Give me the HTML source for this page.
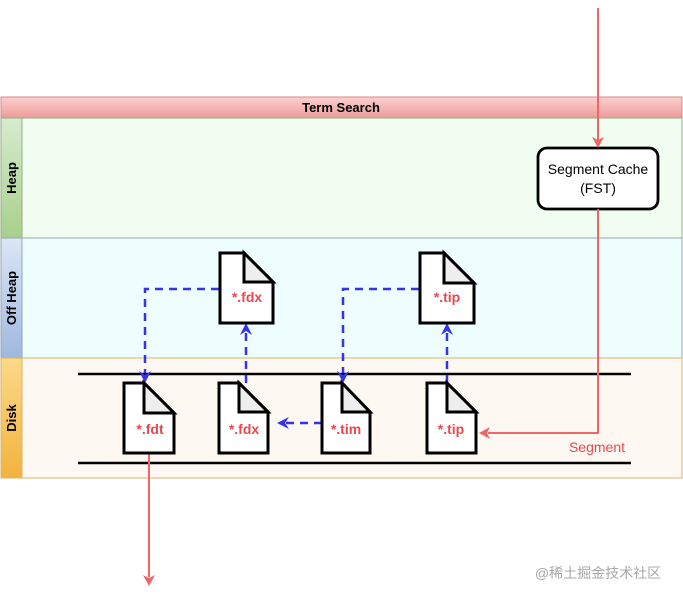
<!DOCTYPE html>
<html><head><meta charset="utf-8"><style>
html,body{margin:0;padding:0;background:#fff;width:683px;height:598px;overflow:hidden}
svg{display:block}
text{font-family:"Liberation Sans",sans-serif}
</style></head><body>
<svg width="683" height="598" viewBox="0 0 683 598" xmlns="http://www.w3.org/2000/svg">
<defs>
<linearGradient id="tg" x1="0" y1="0" x2="0" y2="1"><stop offset="0" stop-color="#fbd0d0"/><stop offset="1" stop-color="#ee9a9a"/></linearGradient>
<linearGradient id="hg" x1="0" y1="0" x2="0" y2="1"><stop offset="0" stop-color="#d8ead0"/><stop offset="1" stop-color="#a8d08c"/></linearGradient>
<linearGradient id="og" x1="0" y1="0" x2="0" y2="1"><stop offset="0" stop-color="#dce6f5"/><stop offset="1" stop-color="#9fb8e0"/></linearGradient>
<linearGradient id="dg" x1="0" y1="0" x2="0" y2="1"><stop offset="0" stop-color="#fcd98a"/><stop offset="1" stop-color="#f2b33e"/></linearGradient>
</defs>
<rect x="1" y="97" width="681" height="21" fill="url(#tg)" stroke="#d78a8a"/>
<text x="341" y="112" font-size="13" font-weight="bold" text-anchor="middle">Term Search</text>
<rect x="1" y="118" width="681" height="120" fill="#f0fdf0" stroke="#96ad8a"/>
<rect x="1" y="118" width="21" height="120" fill="url(#hg)" stroke="#96ad8a"/>
<rect x="1" y="238" width="681" height="120" fill="#eefdfd" stroke="#93a8b6"/>
<rect x="1" y="238" width="21" height="120" fill="url(#og)" stroke="#93a8b6"/>
<rect x="1" y="358" width="681" height="120" fill="#fef8f2" stroke="#d9b46a"/>
<rect x="1" y="358" width="21" height="120" fill="url(#dg)" stroke="#d9b46a"/>
<text transform="translate(16,178) rotate(-90)" font-size="13" font-weight="bold" text-anchor="middle">Heap</text>
<text transform="translate(16,298) rotate(-90)" font-size="13" font-weight="bold" text-anchor="middle">Off Heap</text>
<text transform="translate(16,418) rotate(-90)" font-size="13" font-weight="bold" text-anchor="middle">Disk</text>
<line x1="78" y1="374" x2="631" y2="374" stroke="#000" stroke-width="2.5"/>
<line x1="78" y1="463" x2="631" y2="463" stroke="#000" stroke-width="2.5"/>
<rect x="538" y="148" width="120" height="61" rx="9" fill="#fff" stroke="#000" stroke-width="2.8"/>
<text x="598" y="174" font-size="14" text-anchor="middle">Segment Cache</text>
<text x="598" y="193" font-size="14" text-anchor="middle">(FST)</text>
<g stroke="#ee6666" stroke-width="2" fill="none">
<line x1="598" y1="8" x2="598" y2="140"/>
<polyline points="598,209 598,433 488,433"/>
<line x1="149" y1="453" x2="149" y2="577"/>
</g>
<g fill="#ee6666">
<polygon points="592,137 598,148 604,137 598,140"/>
<polygon points="490,427 479,433 490,439 487,433"/>
<polygon points="143,575 149,586 155,575 149,578"/>
</g>
<text x="597" y="452" font-size="14" fill="#e8474f" text-anchor="middle">Segment</text>
<g stroke="#3333ee" stroke-width="2.5" fill="none" stroke-dasharray="8,6">
<polyline points="219,289 145,289 145,373"/>
<line x1="246" y1="383" x2="246" y2="333"/>
<polyline points="419,289 343,289 343,373"/>
<line x1="447" y1="383" x2="447" y2="333"/>
<line x1="322" y1="423" x2="285" y2="423"/>
</g>
<g fill="#3333ee">
<polygon points="139,371 145,383 151,371 145,375"/>
<polygon points="240,335 246,323 252,335 246,331"/>
<polygon points="337,371 343,383 349,371 343,375"/>
<polygon points="441,335 447,323 453,335 447,331"/>
<polygon points="289,417 277,423 289,429 285,423"/>
</g>
<g stroke="#000" stroke-width="3">
<path d="M124,383 H144 L174,413 V453 H124 Z" fill="#fff"/><path d="M144,383 V413 H174 Z" fill="#eee"/>
<path d="M219,383 H239 L268,412 V453 H219 Z" fill="#fff"/><path d="M239,383 V412 H268 Z" fill="#eee"/>
<path d="M322,383 H342 L370,412 V453 H322 Z" fill="#fff"/><path d="M342,383 V412 H370 Z" fill="#eee"/>
<path d="M427,383 H447 L476,412 V453 H427 Z" fill="#fff"/><path d="M447,383 V412 H476 Z" fill="#eee"/>
<path d="M220,253 H244 L273,282 V323 H220 Z" fill="#fff"/><path d="M244,253 V282 H273 Z" fill="#eee"/>
<path d="M420,253 H444 L474,283 V323 H420 Z" fill="#fff"/><path d="M444,253 V283 H474 Z" fill="#eee"/>
</g>
<g font-size="14" font-weight="bold" fill="#e8474f" text-anchor="middle">
<text x="150" y="434">*.fdt</text>
<text x="244" y="434">*.fdx</text>
<text x="346" y="434">*.tim</text>
<text x="451" y="434">*.tip</text>
<text x="247" y="302">*.fdx</text>
<text x="447" y="302">*.tip</text>
</g>
<text x="598" y="578" font-size="14" fill="#a8a8a8" text-anchor="middle" style="font-family:'Liberation Sans','Noto Sans CJK SC',sans-serif">@稀土掘金技术社区</text>
</svg>
</body></html>
